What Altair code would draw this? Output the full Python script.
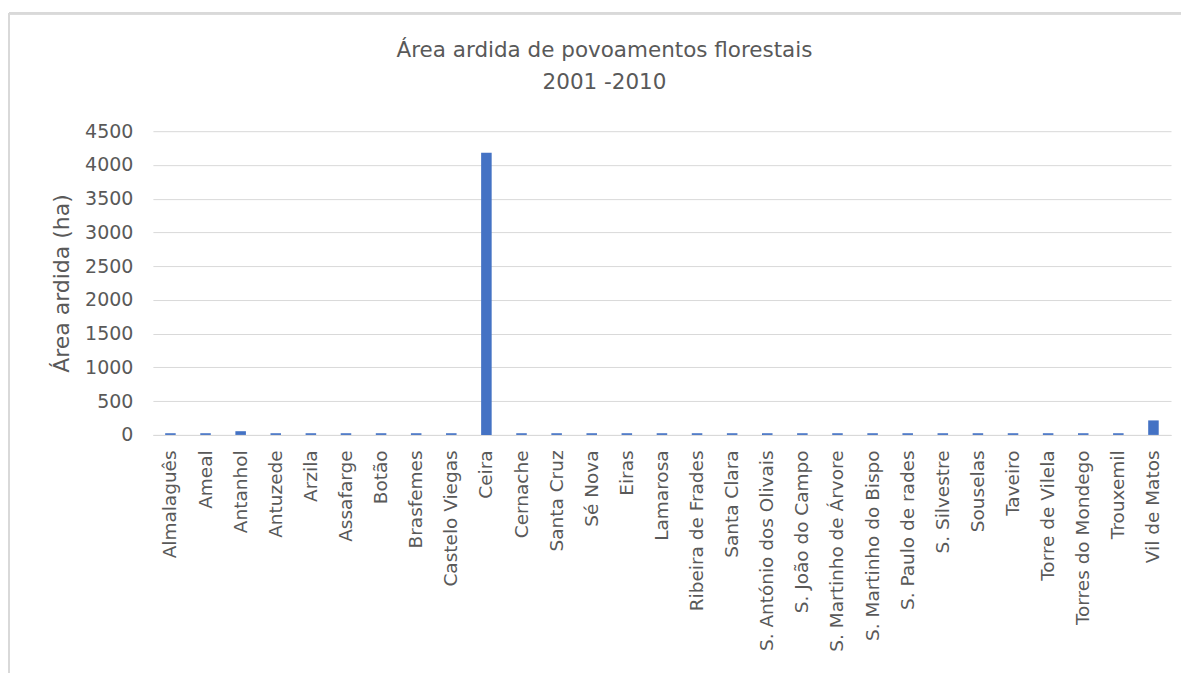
import altair as alt
import pandas as pd

categories = ["Almalaguês", "Ameal", "Antanhol", "Antuzede", "Arzila", "Assafarge", "Botão",
              "Brasfemes", "Castelo Viegas", "Ceira", "Cernache", "Santa Cruz", "Sé Nova",
              "Eiras", "Lamarosa", "Ribeira de Frades", "Santa Clara", "S. António dos Olivais",
              "S. João do Campo", "S. Martinho de Árvore", "S. Martinho do Bispo",
              "S. Paulo de rades", "S. Silvestre", "Souselas", "Taveiro", "Torre de Vilela",
              "Torres do Mondego", "Trouxemil", "Vil de Matos"]
values = [25, 25, 55, 25, 25, 25, 25, 25, 25, 4180, 25, 25, 25, 25, 25, 25, 25, 25,
          25, 25, 25, 25, 25, 25, 25, 25, 25, 25, 215]
y_ticks = [0, 500, 1000, 1500, 2000, 2500, 3000, 3500, 4000, 4500]
title_lines = ["Área ardida de povoamentos florestais", "2001 -2010"]

df = pd.DataFrame({"freguesia": categories, "area": values})
title_df = pd.DataFrame({"t": title_lines, "line": [0, 1]})

FONT = "DejaVu Sans"
GREY = "#595959"

bars = alt.Chart(df).mark_bar(color="#4472C4").encode(
    x=alt.X("freguesia:N", sort=categories,
            scale=alt.Scale(paddingInner=0.7, paddingOuter=0.35),
            axis=alt.Axis(title=None, labelAngle=-90, labelFontSize=18.5, labelFont=FONT,
                          labelColor=GREY, ticks=False, domain=True, domainColor="#d9d9d9",
                          labelPadding=15, labelBaseline="middle", labelAlign="right",
                          labelLimit=400)),
    y=alt.Y("area:Q", scale=alt.Scale(domain=[0, 4500], nice=False),
            axis=alt.Axis(values=y_ticks, format="d", title="Área ardida (ha)", titleFontSize=22,
                          titleFont=FONT, titleColor=GREY, titleFontWeight="normal",
                          titlePadding=11, labelFontSize=19, labelFont=FONT, labelColor=GREY,
                          ticks=False, domain=False, gridColor="#d9d9d9", labelPadding=20)),
)

title_text = alt.Chart(title_df).mark_text(font=FONT, fontSize=21.5, color=GREY,
                                           align="center", baseline="middle").encode(
    text="t:N",
    x=alt.value(452),
    y=alt.Y("line:Q", scale=alt.Scale(domain=[0, 1], range=[-80, -48]), axis=None),
)

border_top = alt.Chart(df).mark_rule(color="#d9d9d9", strokeWidth=2).encode(
    x=alt.value(-144), x2=alt.value(1040), y=alt.value(-118))
border_left = alt.Chart(df).mark_rule(color="#d9d9d9", strokeWidth=2).encode(
    x=alt.value(-144), y=alt.value(-118), y2=alt.value(545))

chart = alt.layer(bars, title_text, border_top, border_left).resolve_scale(
    y="independent"
).properties(
    width=1019, height=304,
    autosize=alt.AutoSizeParams(type="none"),
    padding={"left": 145, "top": 123, "right": 10, "bottom": 238},
).configure_view(stroke=None)

chart.save("out.html", embed_options={"renderer": "svg", "actions": False})
